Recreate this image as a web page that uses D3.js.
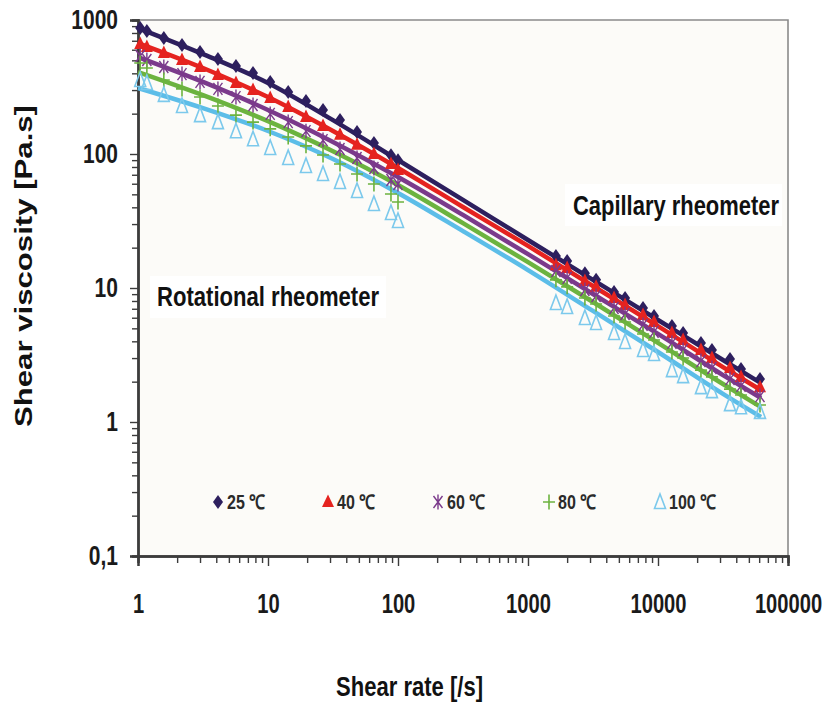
<!DOCTYPE html>
<html>
<head>
<meta charset="utf-8">
<script src="https://cdn.jsdelivr.net/npm/d3@7"></script>
<style>
  html, body { margin: 0; padding: 0; background: #ffffff; }
  svg { display: block; }
</style>
</head>
<body>
<svg id="chart" width="827" height="704"></svg>
<script>
// ---------------- data ----------------
const seriesNames = ["25 ℃", "40 ℃", "60 ℃", "80 ℃", "100 ℃"];

// rotational rheometer shear rates [/s]
const rotRate = [1.04, 1.17, 1.58, 2.18, 3.0, 4.12, 5.67, 7.67, 10.4, 14.3, 19.6, 26.5, 35.8, 48.4, 65.3, 88.3, 100];
// capillary rheometer shear rates [/s]
const capRate = [1640, 2000, 2740, 3340, 4590, 5580, 7670, 9320, 12800, 15600, 21400, 26000, 35800, 43500, 60900];
// shear rates at which the fitted curves are given
const fitRate = [1, 3.16, 10, 31.6, 100, 316, 1000, 3160, 10000, 31600, 62000];

// measured viscosities [Pa.s] – rotational
const rot25  = [871, 828, 734, 651, 577, 512, 454, 402, 345, 290, 249, 213, 179, 146, 121, 98, 90];
const rot40  = [662, 629, 567, 503, 446, 389, 339, 300, 262, 224, 189, 162, 139, 117, 100, 84.2, 76];
const rot60  = [539, 503, 446, 395, 345, 306, 266, 232, 199, 173, 148, 127, 109, 93.3, 78.6, 64.0, 59.7];
const rot80  = [478, 438, 357, 306, 266, 228, 195, 173, 154, 134, 115, 98.3, 84.2, 70.9, 59.7, 50.3, 43.8];
const rot100 = [357, 339, 276, 228, 195, 173, 148, 129, 111, 93.3, 81.4, 70.9, 61.8, 52.9, 42.4, 36.3, 31.6];

// measured viscosities [Pa.s] – capillary
const cap25  = [17.3, 15.9, 12.9, 11.5, 9.33, 8.42, 7.09, 6.18, 5.20, 4.62, 3.89, 3.45, 2.95, 2.49, 2.09];
const cap40  = [14.8, 14.1, 11.3, 10.2, 8.42, 7.47, 6.29, 5.58, 4.62, 4.09, 3.45, 3.00, 2.53, 2.17, 1.82];
const cap60  = [13.4, 11.9, 9.66, 8.71, 7.09, 6.40, 5.30, 4.70, 3.89, 3.45, 2.85, 2.53, 2.09, 1.86, 1.56];
const cap80  = [11.5, 10.2, 8.42, 7.60, 6.18, 5.58, 4.54, 4.09, 3.33, 3.00, 2.44, 2.17, 1.76, 1.59, 1.34];
const cap100 = [7.73, 7.21, 5.97, 5.48, 4.62, 3.95, 3.45, 3.22, 2.44, 2.20, 1.82, 1.70, 1.36, 1.29, 1.19];

// fitted model curves [Pa.s]
const fit25  = [871, 557, 339, 179, 90.2, 45.4, 22.8, 11.5, 5.77, 2.90, 1.95];
const fit40  = [673, 438, 266, 148.5, 78.7, 40.2, 20.6, 10.35, 5.20, 2.57, 1.73];
const fit60  = [529, 345, 213, 123, 67.3, 35.1, 17.9, 9.02, 4.54, 2.24, 1.51];
const fit80  = [409, 275, 176, 105, 58.7, 30.5, 15.6, 7.86, 3.89, 1.92, 1.29];
const fit100 = [311, 220, 148.5, 91.8, 51.2, 26.6, 13.6, 6.74, 3.33, 1.62, 1.09];

// tick labels
const xTickValues = [1, 10, 100, 1000, 10000, 100000];
const xTickLabels = ["1", "10", "100", "1000", "10000", "100000"];
const yTickValues = [0.1, 1, 10, 100, 1000];
const yTickLabels = ["0,1", "1", "10", "100", "1000"];

// ---------------- styles ----------------
const colors = ["#2d1f5e", "#e5231f", "#7b3a8b", "#6cb33f", "#5cbde8"];
const markerColors = ["#2d1f5e", "#e5231f", "#7b3a8b", "#6cb33f", "#7cc9ec"];
const FONT = "'Liberation Sans', Arial, Helvetica, sans-serif";

const series = [
  { name: seriesNames[0], rot: rot25,  cap: cap25,  fit: fit25,  shape: "diamond" },
  { name: seriesNames[1], rot: rot40,  cap: cap40,  fit: fit40,  shape: "triangle" },
  { name: seriesNames[2], rot: rot60,  cap: cap60,  fit: fit60,  shape: "star" },
  { name: seriesNames[3], rot: rot80,  cap: cap80,  fit: fit80,  shape: "plus" },
  { name: seriesNames[4], rot: rot100, cap: cap100, fit: fit100, shape: "opentri" }
];

const svg = d3.select("#chart");
const L = 138, R = 788, T = 20, B = 556;

const x = d3.scaleLog().domain([1, 100000]).range([L, R]);
const y = d3.scaleLog().domain([0.1, 1000]).range([B, T]);

// plot background
svg.append("rect").attr("x", L).attr("y", T).attr("width", R - L).attr("height", B - T)
  .attr("fill", "#fcfbf8");

// label boxes
svg.append("rect").attr("x", 565).attr("y", 184).attr("width", 217).attr("height", 42).attr("fill", "#ffffff");
svg.append("rect").attr("x", 150).attr("y", 276).attr("width", 236).attr("height", 42).attr("fill", "#ffffff");

// frame (top / right)
svg.append("path").attr("d", `M${L},${T}H${R}V${B}`).attr("fill", "none")
  .attr("stroke", "#8a8a8a").attr("stroke-width", 1.6);

// ---------------- axes ----------------
const isMajor = v => Math.abs(Math.log10(v) - Math.round(Math.log10(v))) < 1e-9;

const yMinor = y.ticks().filter(v => !isMajor(v));
const xMinor = x.ticks().filter(v => !isMajor(v));

const gyMinor = svg.append("g").attr("transform", `translate(${L},0)`)
  .call(d3.axisLeft(y).tickValues(yMinor).tickSize(6).tickFormat(""));
const gy = svg.append("g").attr("transform", `translate(${L},0)`)
  .call(d3.axisLeft(y).tickValues(yTickValues).tickSize(8).tickPadding(12)
    .tickFormat((d, i) => yTickLabels[i]));

const gxMinor = svg.append("g").attr("transform", `translate(0,${B})`)
  .call(d3.axisBottom(x).tickValues(xMinor).tickSize(7).tickFormat(""));
const gx = svg.append("g").attr("transform", `translate(0,${B})`)
  .call(d3.axisBottom(x).tickValues(xTickValues).tickSize(10).tickPadding(27)
    .tickFormat((d, i) => xTickLabels[i]));

[gyMinor, gy, gxMinor, gx].forEach(g => {
  g.selectAll("path.domain").attr("stroke", "#3c3c3c").attr("stroke-width", 2.4);
  g.selectAll(".tick line").attr("stroke", "#3c3c3c").attr("stroke-width", 1.4);
});
gy.selectAll("text").attr("class", "cond")
  .attr("font-family", FONT).attr("font-weight", "bold")
  .attr("font-size", 28).attr("fill", "#1a1a1a");
// x tick labels: condensed through a horizontal scale about the tick centre
gx.selectAll("text")
  .attr("font-family", FONT).attr("font-weight", "bold")
  .attr("font-size", 28).attr("fill", "#1a1a1a")
  .attr("dy", "0.71em")
  .attr("transform", "scale(0.72,1)");

// ---------------- fitted lines ----------------
const line = d3.line().x(d => x(d[0])).y(d => y(d[1])).curve(d3.curveMonotoneX);
series.forEach((s, i) => {
  svg.append("path")
    .attr("d", line(fitRate.map((r, j) => [r, s.fit[j]])))
    .attr("fill", "none").attr("stroke", colors[i]).attr("stroke-width", 4.5)
    .attr("stroke-linecap", "butt");
});

// ---------------- markers ----------------
function drawMarker(g, shape, color) {
  if (shape === "diamond") {
    g.append("path").attr("d", "M0,-7L5,0L0,7L-5,0Z").attr("fill", color);
  } else if (shape === "triangle") {
    g.append("path").attr("d", "M0,-7.5L6,5L-6,5Z").attr("fill", color);
  } else if (shape === "star") {
    g.append("path").attr("d", "M-4.5,-6L4.5,6M-4.5,6L4.5,-6M0,-7.5L0,7.5")
      .attr("stroke", color).attr("stroke-width", 1.4).attr("fill", "none");
  } else if (shape === "plus") {
    g.append("path").attr("d", "M-6,0H6M0,-7.5V7.5")
      .attr("stroke", color).attr("stroke-width", 1.6).attr("fill", "none");
  } else if (shape === "opentri") {
    g.append("path").attr("d", "M0,-8L5.5,6.5L-5.5,6.5Z")
      .attr("stroke", color).attr("stroke-width", 1.6).attr("fill", "none");
  }
}

series.forEach((s, i) => {
  const pts = rotRate.map((r, j) => [r, s.rot[j]]).concat(capRate.map((r, j) => [r, s.cap[j]]));
  const g = svg.append("g");
  pts.forEach(p => {
    const m = g.append("g").attr("transform", `translate(${x(p[0])},${y(p[1])})`);
    drawMarker(m, s.shape, markerColors[i]);
  });
});

// ---------------- legend ----------------
const legendX = [218, 328, 438, 549, 660];
const legendY = 502;
series.forEach((s, i) => {
  const m = svg.append("g").attr("transform", `translate(${legendX[i]},${legendY})`);
  drawMarker(m, s.shape, markerColors[i]);
  svg.append("text").attr("class", "cond").attr("data-f", 0.8)
    .attr("x", legendX[i] + 9).attr("y", legendY + 7)
    .attr("font-family", FONT).attr("font-weight", "bold").attr("font-size", 20)
    .attr("fill", "#2a2a2a").text(s.name);
});

// ---------------- annotations & titles ----------------
svg.append("text").attr("x", 157).attr("y", 306)
  .attr("font-family", FONT).attr("font-weight", "bold").attr("font-size", 27)
  .attr("fill", "#111").attr("textLength", 222).attr("lengthAdjust", "spacingAndGlyphs")
  .text("Rotational rheometer");

svg.append("text").attr("x", 573).attr("y", 215)
  .attr("font-family", FONT).attr("font-weight", "bold").attr("font-size", 27)
  .attr("fill", "#111").attr("textLength", 206).attr("lengthAdjust", "spacingAndGlyphs")
  .text("Capillary rheometer");

svg.append("text").attr("x", 336).attr("y", 696)
  .attr("font-family", FONT).attr("font-weight", "bold").attr("font-size", 27)
  .attr("fill", "#111").attr("textLength", 147).attr("lengthAdjust", "spacingAndGlyphs")
  .text("Shear rate [/s]");

svg.append("text").attr("transform", "translate(32,266) rotate(-90)")
  .attr("text-anchor", "middle")
  .attr("font-family", FONT).attr("font-weight", "bold").attr("font-size", 24)
  .attr("fill", "#111").attr("textLength", 322).attr("lengthAdjust", "spacingAndGlyphs")
  .text("Shear viscosity [Pa.s]");

// condensed look for y tick labels & legend
svg.selectAll("text.cond").each(function () {
  const w = this.getComputedTextLength();
  const f = +(this.getAttribute("data-f") || 0.75);
  this.setAttribute("textLength", (w * f).toFixed(1));
  this.setAttribute("lengthAdjust", "spacingAndGlyphs");
});
</script>
</body>
</html>
